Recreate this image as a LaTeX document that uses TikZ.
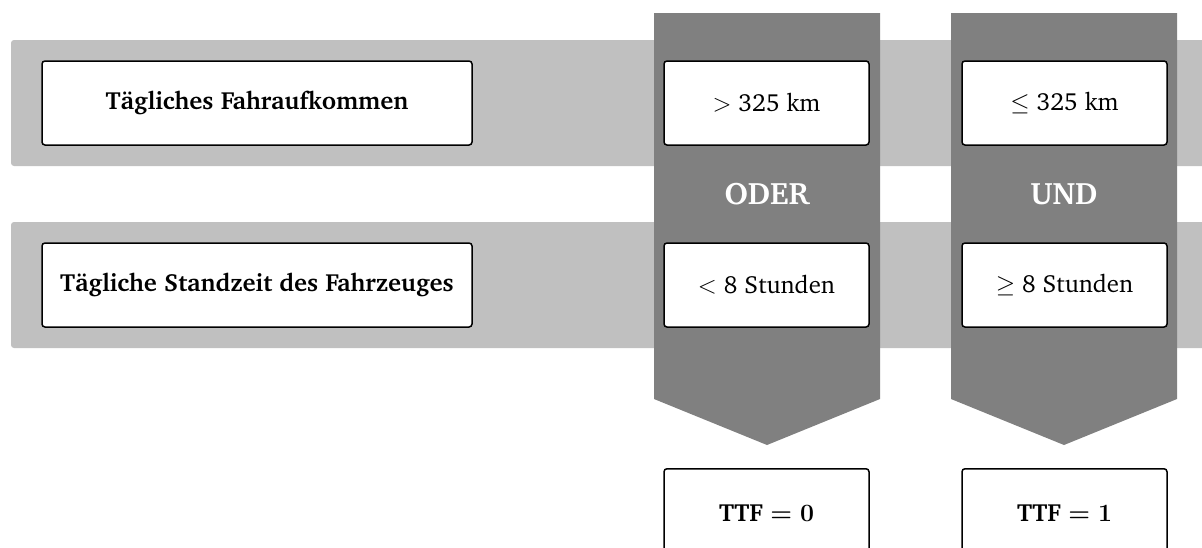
\documentclass[tikz,border=0pt]{standalone}
\usepackage[T1]{fontenc}
\renewcommand{\rmdefault}{bch}
\definecolor{bandgray}{HTML}{C0C0C0}
\definecolor{arrowgray}{HTML}{808080}
\tikzset{
  band/.style={fill=bandgray, rounded corners=3pt},
  flow/.style={fill=arrowgray},
  infobox/.style={draw=black, line width=1.5pt, fill=white, rounded corners=3pt,
    minimum height=84pt, inner sep=0pt, font=\fontsize{24.8}{29}\selectfont},
  labelbox/.style={infobox, minimum width=430pt, font=\fontsize{24.8}{29}\selectfont\bfseries},
  valuebox/.style={infobox, minimum width=205pt},
  resultbox/.style={infobox, minimum width=205pt, minimum height=88pt,
    font=\fontsize{24.8}{29}\selectfont\bfseries\boldmath},
  joiner/.style={text=white, font=\fontsize{31}{35}\selectfont\bfseries}
}
\begin{document}
\begin{tikzpicture}[x=1pt, y=-1pt]
  \useasboundingbox (0,0) rectangle (1202,547);
  \clip (0,0) rectangle (1202,547);
  % horizontal bands
  \fill[band] (11,40) rectangle (1215,166);
  \fill[band] (11,222) rectangle (1215,348);
  % downward flow arrows
  \fill[flow] (654,13) -- (880,13) -- (880,399) -- (767,445) -- (654,399) -- cycle;
  \fill[flow] (951,13) -- (1177,13) -- (1177,399) -- (1064,445) -- (951,399) -- cycle;
  % criteria labels
  \node[labelbox] (km) at (257,103) {Tägliches Fahraufkommen};
  \node[labelbox] (stand) at (257,285) {Tägliche Standzeit des Fahrzeuges};
  % values of the first column
  \node[valuebox] (kmA) at (766.5,103) {$>$ 325 km};
  \node[valuebox] (standA) at (766.5,285) {$<$ 8 Stunden};
  % values of the second column
  \node[valuebox] (kmB) at (1064.5,103) {$\leq$ 325 km};
  \node[valuebox] (standB) at (1064.5,285) {$\geq$ 8 Stunden};
  % logical joiners
  \node[joiner] (oder) at (767,194) {ODER};
  \node[joiner] (und) at (1064,194) {UND};
  % results
  \node[resultbox, anchor=north] (ttf0) at (766.5,468) {TTF $= 0$};
  \node[resultbox, anchor=north] (ttf1) at (1064.5,468) {TTF $= 1$};
\end{tikzpicture}
\end{document}
